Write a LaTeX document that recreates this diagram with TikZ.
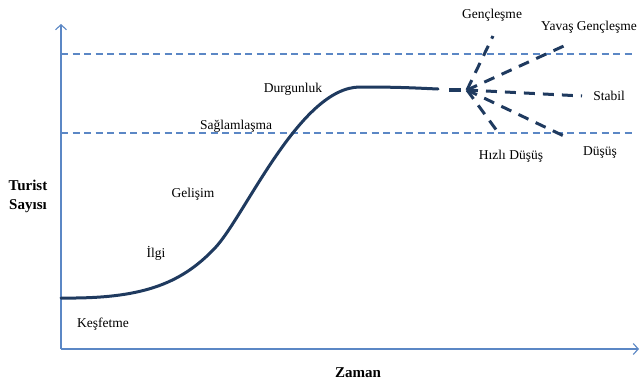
\documentclass[tikz,border=0pt]{standalone}
\usepackage{fontspec}
\setmainfont{Liberation Serif}
\usetikzlibrary{arrows.meta}
\definecolor{axisblue}{HTML}{5B87C5}
\definecolor{navy}{HTML}{1F3A5F}
\begin{document}
\begin{tikzpicture}[x=1pt,y=-1pt,
  axisline/.style={axisblue,line width=1.3pt,-{Straight Barb[length=5pt,width=11pt,line width=1.1pt]}},
  guide/.style={axisblue,line width=1.1pt,dash pattern=on 7pt off 4.5pt},
  curve/.style={navy,line width=3pt,line cap=round},
  branch/.style={navy,line width=3pt,dash pattern=on 11pt off 8pt},
  lbl/.style={font=\fontsize{13.5}{15}\selectfont,inner sep=0pt},
  bold/.style={font=\fontsize{15}{19}\selectfont\bfseries,inner sep=0pt,align=center}]
\useasboundingbox (0,0) rectangle (641,383);
% axes
\coordinate (o) at (61,349);
\coordinate (ytop) at (61,24);
\coordinate (xend) at (639,349);
\draw[axisline] (o) -- (ytop);
\draw[axisline] (o) -- (xend);
% guide lines
\coordinate (g1a) at (61,54); \coordinate (g1b) at (636,54);
\coordinate (g2a) at (61,133); \coordinate (g2b) at (636,133);
\draw[guide] (g1a) -- (g1b);
\draw[guide] (g2a) -- (g2b);
% main curve
\coordinate (c0) at (61,298);
\coordinate (c1) at (215,248);
\coordinate (c2) at (360,87);
\coordinate (c3) at (438,89);
\draw[curve] (c0) .. controls (140,299) and (180,285) .. (c1)
  .. controls (245,216) and (300,87) .. (c2)
  .. controls (400,87) and (415,88) .. (c3);
\coordinate (d0) at (449,90); \coordinate (d1) at (461,90);
\draw[navy,line width=4pt] (d0) -- (d1);
% branches
\coordinate (f) at (467,90);
\coordinate (bGen) at (493,36);
\coordinate (bYav) at (566,45);
\coordinate (bSta) at (582,96);
\coordinate (bDus) at (566,137);
\coordinate (bHiz) at (500,135);
\draw[branch] (f) -- (bGen);
\draw[branch] (f) -- (bYav);
\draw[branch] (f) -- (bSta);
\draw[branch] (f) -- (bDus);
\draw[branch] (f) -- (bHiz);
% labels
\node[lbl] (lGen) at (492,15) {Gençleşme};
\node[lbl] (lYav) at (589,27) {Yavaş Gençleşme};
\node[lbl] (lSta) at (609,96) {Stabil};
\node[lbl] (lDus) at (600,153) {Düşüş};
\node[lbl] (lHiz) at (511,156) {Hızlı Düşüş};
\node[lbl] (lDur) at (293,89) {Durgunluk};
\node[lbl] (lSag) at (236,126) {Sağlamlaşma};
\node[lbl] (lGel) at (193,194) {Gelişim};
\node[lbl] (lIlg) at (156,253) {İlgi};
\node[lbl] (lKes) at (103,324) {Keşfetme};
\node[bold] (lTur) at (28,196) {Turist\\Sayısı};
\node[bold] (lZam) at (358,373) {Zaman};
\end{tikzpicture}
\end{document}
